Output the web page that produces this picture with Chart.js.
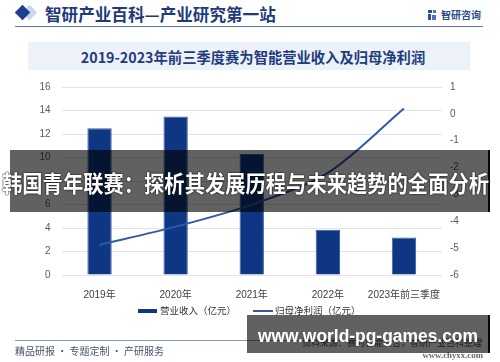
<!DOCTYPE html>
<html>
<head>
<meta charset="utf-8">
<script src="https://cdn.jsdelivr.net/npm/chart.js@4.4.1/dist/chart.umd.min.js"></script>
<style>
  html, body { margin:0; padding:0; background:#fff; }
  #wrap { position:relative; width:500px; height:362px; overflow:hidden; background:#fff; font-family:"Noto Sans CJK SC", sans-serif; }
  #c { position:absolute; left:0; top:0; }
  .abs { position:absolute; white-space:nowrap; }
  .vc { transform:translateY(-50%); line-height:1; }
</style>
</head>
<body>
<div id="wrap">
  <!-- header -->
  <div class="abs" style="left:24px;top:7px;width:11px;height:11px;background:#c9d6ee;transform:rotate(45deg);"></div>
  <div class="abs" style="left:17px;top:7px;width:11px;height:11px;background:#1d3f8c;transform:rotate(45deg);"></div>
  <div class="abs vc" id="hdr" style="left:45px;top:14px;font-size:16.6px;font-weight:bold;color:#1e3a78;">智研产业百科—产业研究第一站</div>
  <div class="abs" style="left:428px;top:10px;width:4px;height:3px;background:#2d4d8f;"></div>
  <div class="abs" style="left:433px;top:10px;width:3px;height:3px;background:#4f73b8;"></div>
  <div class="abs" style="left:428px;top:14px;width:3px;height:6px;background:#2d4d8f;"></div>
  <div class="abs" style="left:432px;top:15px;width:4px;height:5px;background:#4f73b8;"></div>
  <div class="abs vc" style="left:441px;top:15px;font-size:10px;color:#2d4d8f;font-weight:bold;">智研咨询</div>
  <div class="abs" style="left:15px;top:26px;width:468px;height:1px;background:#5a78b3;"></div>

  <!-- chart title -->
  <div class="abs" style="left:28px;top:42px;width:442px;height:28px;background:#edf2fa;"></div>
  <div class="abs vc" id="ctitle" style="left:253px;top:57px;font-size:14.3px;font-weight:bold;color:#1f3c7c;transform:translate(-50%,-50%);">2019-2023年前三季度赛为智能营业收入及归母净利润</div>

  <canvas id="c" width="500" height="362"></canvas>

  <!-- legend -->
  <div id="legend"></div>

  <!-- footer -->
  <div class="abs" style="left:15px;top:340px;width:468px;height:1px;background:#7f9acb;"></div>
  <div class="abs vc" style="left:15px;top:351px;font-size:10px;color:#44546a;">精品研报 · 专题定制 · 产研服务</div>
  <div class="abs vc" style="right:18px;top:342px;font-size:9px;color:#555;">资料来源：赛为智能公告，智研产业百科整理</div>
  <div class="abs vc" style="right:17px;top:355px;font-size:8.8px;color:#666;font-family:'Liberation Serif',serif;font-weight:bold;">www.chyxx.com</div>

  <!-- overlay banners -->
  <div class="abs" style="left:10px;top:150px;width:478px;height:62px;background:rgba(0,0,0,0.62);border-right:2px solid rgba(0,0,0,0.92);"></div>
  <div class="abs vc" id="b1" style="left:2px;top:182px;font-size:23px;font-weight:bold;color:#fff;transform-origin:0 50%;text-shadow:0 0 2px rgba(0,0,0,0.9),0 0 1px rgba(0,0,0,0.9);">韩国青年联赛：探析其发展历程与未来趋势的全面分析</div>
  <div class="abs" style="left:247px;top:315px;width:241px;height:38px;background:rgba(0,0,0,0.62);border-right:2px solid rgba(0,0,0,0.92);"></div>
  <div class="abs vc" id="b2" style="left:258px;top:337px;font-size:17.5px;font-weight:bold;color:#fff;font-family:'Liberation Sans',Arial,sans-serif;transform-origin:0 50%;">www.world-pg-games.com</div>
</div>
<script>
// ---- data ----
const categories = ['2019年', '2020年', '2021年', '2022年', '2023年前三季度'];
const revenue = [12.5, 13.5, 10.3, 3.85, 3.2];          // 营业收入（亿元）
const netProfit = [-4.88, -4.2, -3.38, -2.2, 0.2];       // 归母净利润（亿元）
const seriesNames = ['营业收入（亿元）', '归母净利润（亿元）'];
const leftAxis = [0, 16, 2];    // min, max, step
const rightAxis = [-6, 1, 1];   // min, max, step

// fit banner text widths
function fitWidth(id, w) {
  const el = document.getElementById(id);
  const cw = el.getBoundingClientRect().width;
  el.style.transform = 'translateY(-50%) scaleX(' + (w / cw) + ')';
}
fitWidth('b1', 487);
fitWidth('b2', 220);

const tickFont = { family: "'Liberation Sans', 'Noto Sans CJK SC', sans-serif", size: 10 };
const barColor = '#0e3682';
const lineColor = '#2f5aa8';

new Chart(document.getElementById('c').getContext('2d'), {
  type: 'bar',
  data: {
    labels: categories,
    datasets: [
      { type: 'bar', label: seriesNames[0], data: revenue, yAxisID: 'y',
        backgroundColor: barColor, borderColor: '#3b5fa6', borderWidth: 1,
        barPercentage: 0.4, categoryPercentage: 0.8, order: 2 },
      { type: 'line', label: seriesNames[1], data: netProfit, yAxisID: 'y1',
        borderColor: lineColor, borderWidth: 2, pointRadius: 0, tension: 0.3,
        fill: false, order: 1 }
    ]
  },
  options: {
    responsive: false,
    animation: false,
    layout: { padding: { left: 0, right: 28, top: 87, bottom: 55 } },
    plugins: { legend: { display: false }, tooltip: { enabled: false } },
    scales: {
      x: {
        grid: { display: false }, border: { display: false },
        ticks: { font: tickFont, color: '#404040', padding: 6, maxRotation: 0, autoSkip: false },
        afterFit(s) { s.height = 32; }
      },
      y: {
        position: 'left', min: leftAxis[0], max: leftAxis[1],
        ticks: { stepSize: leftAxis[2], padding: 11, font: tickFont, color: '#595959' },
        grid: { color: '#e3e3e3', drawTicks: false }, border: { display: false },
        afterFit(s) { s.width = 61.5; }
      },
      y1: {
        position: 'right', min: rightAxis[0], max: rightAxis[1],
        ticks: { stepSize: rightAxis[2], padding: 8, font: tickFont, color: '#595959' },
        grid: { display: false, drawTicks: false }, border: { display: false },
        afterFit(s) { s.width = 30; }
      }
    }
  }
});

// legend (HTML) built from series names
const lg = document.getElementById('legend');
lg.innerHTML =
  '<div class="abs" style="left:138px;top:309px;width:19px;height:4px;background:' + barColor + ';"></div>' +
  '<div class="abs vc" style="left:160px;top:311px;font-size:9.5px;color:#333;">' + seriesNames[0] + '</div>' +
  '<div class="abs" style="left:253px;top:310px;width:20px;height:2px;background:' + lineColor + ';"></div>' +
  '<div class="abs vc" style="left:275px;top:311px;font-size:9.5px;color:#333;">' + seriesNames[1] + '</div>';
</script>
</body>
</html>
